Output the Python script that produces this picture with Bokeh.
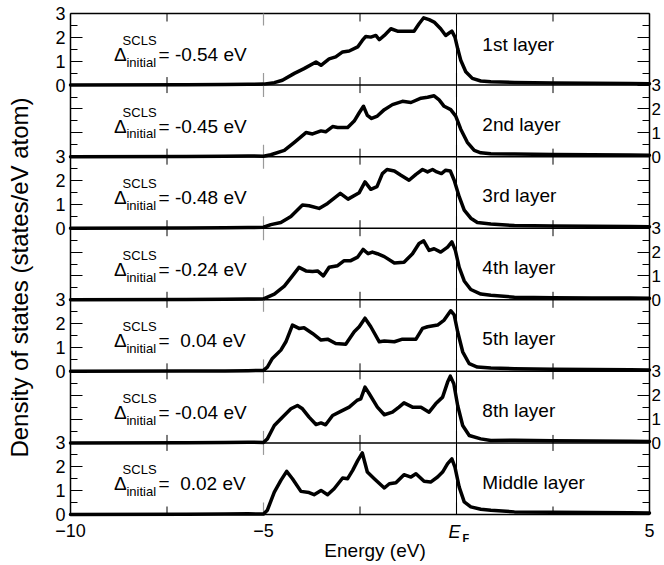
import math
from bokeh.plotting import figure
from bokeh.models import FixedTicker, LinearAxis, Range1d
from bokeh.embed import file_html
from bokeh.resources import INLINE
from bokeh.core.properties import value

FONT = "Liberation Sans"

# ---------------- data ----------------
layer_names = ["1st layer", "2nd layer", "3rd layer", "4th layer",
               "5th layer", "8th layer", "Middle layer"]
scls_shifts = [-0.54, -0.45, -0.48, -0.24, 0.04, -0.04, 0.02]

x_ticks = [-10, -5, 0, 5]
x_minor_ticks = [-7.5, -2.5, 2.5]
y_tick_values = [0, 1, 2, 3]
y_minor_values = [0.5, 1.5, 2.5]

# shared low-DOS tails (below the band and above E_F)
tail_left_e = [-10.0, -7.0, -6.0, -5.4]
tail_left_d = [0.0, 0.01, 0.02, 0.03]
tail_right_e = [1.5, 2.5, 3.5, 4.5, 5.0]
tail_right_d = [0.11, 0.09, 0.08, 0.07, 0.06]

energy_1st = [-5.0, -4.72, -4.51, -4.2, -3.95, -3.64, -3.51, -3.3, -3.13, -2.95, -2.78, -2.56,
              -2.44, -2.35, -2.22, -2.09, -2.0, -1.87, -1.7, -1.53, -1.1, -0.97, -0.85, -0.71,
              -0.58, -0.41, -0.28, -0.19, -0.12, -0.04, 0.03, 0.11, 0.24, 0.41, 0.63, 0.89]
dos_1st = [0.04, 0.1, 0.2, 0.49, 0.69, 0.97, 0.83, 1.1, 1.18, 1.39, 1.43, 1.6,
           1.87, 2.04, 2.01, 2.08, 1.9, 2.08, 2.36, 2.26, 2.26, 2.57, 2.82, 2.74,
           2.64, 2.36, 2.08, 2.18, 2.26, 2.01, 1.53, 1.04, 0.56, 0.28, 0.17, 0.14]

energy_2nd = [-5.0, -4.81, -4.46, -4.2, -3.9, -3.73, -3.51, -3.39, -3.21, -3.08, -2.82, -2.65,
              -2.52, -2.41, -2.31, -2.2, -2.05, -1.87, -1.66, -1.4, -1.18, -0.92, -0.75, -0.58,
              -0.45, -0.32, -0.15, -0.02, 0.11, 0.28, 0.46, 0.63, 0.89]
dos_2nd = [0.02, 0.08, 0.26, 0.6, 1.01, 0.95, 1.08, 1.04, 1.26, 1.22, 1.22, 1.49,
           1.84, 2.11, 1.73, 1.6, 1.7, 1.97, 2.18, 2.32, 2.27, 2.45, 2.49, 2.55,
           2.38, 2.11, 1.97, 1.7, 1.15, 0.6, 0.26, 0.16, 0.12]

energy_3rd = [-5.0, -4.81, -4.55, -4.29, -3.99, -3.82, -3.56, -3.34, -3.01, -2.81, -2.52, -2.37,
              -2.22, -2.06, -1.92, -1.8, -1.61, -1.44, -1.23, -1.05, -0.88, -0.75, -0.62, -0.51,
              -0.39, -0.28, -0.16, -0.06, 0.07, 0.2, 0.37, 0.54, 0.89]
dos_3rd = [0.04, 0.15, 0.24, 0.49, 0.97, 0.94, 0.83, 1.04, 1.46, 1.22, 1.49, 1.94,
           1.63, 1.74, 2.29, 2.46, 2.4, 2.22, 2.01, 2.26, 2.46, 2.36, 2.46, 2.36,
           2.29, 2.43, 2.4, 2.01, 1.32, 0.76, 0.42, 0.24, 0.18]

energy_4th = [-5.0, -4.72, -4.46, -4.25, -4.08, -3.9, -3.73, -3.6, -3.45, -3.3, -3.08, -2.91,
              -2.74, -2.56, -2.42, -2.29, -2.18, -2.05, -1.87, -1.61, -1.36, -1.14, -0.97, -0.85,
              -0.71, -0.58, -0.41, -0.23, -0.12, -0.03, 0.07, 0.2, 0.37, 0.63, 0.89]
dos_4th = [0.04, 0.24, 0.57, 1.0, 1.36, 1.21, 1.19, 1.21, 1.0, 1.36, 1.43, 1.64,
           1.64, 1.79, 2.11, 1.93, 2.0, 1.93, 1.81, 1.54, 1.57, 1.93, 2.36, 2.47,
           2.07, 2.14, 2.0, 2.21, 2.43, 2.07, 1.36, 0.79, 0.43, 0.24, 0.19]

energy_5th = [-5.0, -4.9, -4.77, -4.55, -4.42, -4.25, -4.08, -3.95, -3.73, -3.51, -3.34, -3.13,
              -2.87, -2.65, -2.52, -2.37, -2.22, -2.0, -1.87, -1.61, -1.4, -1.05, -0.88, -0.75,
              -0.49, -0.32, -0.15, -0.06, 0.03, 0.16, 0.33, 0.54, 0.89]
dos_5th = [0.04, 0.18, 0.54, 0.89, 1.24, 1.94, 1.8, 1.83, 1.59, 1.31, 1.35, 1.17,
           1.14, 1.66, 1.87, 2.23, 1.87, 1.24, 1.27, 1.24, 1.35, 1.35, 1.8, 1.87,
           1.94, 2.15, 2.54, 2.37, 1.66, 0.82, 0.32, 0.18, 0.14]

energy_8th = [-5.0, -4.9, -4.72, -4.51, -4.29, -4.12, -3.99, -3.82, -3.64, -3.51, -3.39, -3.21,
              -3.0, -2.78, -2.58, -2.48, -2.37, -2.26, -2.05, -1.87, -1.66, -1.49, -1.36, -1.14,
              -0.92, -0.71, -0.54, -0.36, -0.23, -0.16, -0.07, 0.03, 0.16, 0.33, 0.63, 0.89]
dos_8th = [0.02, 0.17, 0.73, 1.08, 1.43, 1.57, 1.43, 1.08, 0.77, 0.84, 0.76, 1.15,
           1.32, 1.5, 1.78, 1.85, 2.34, 2.06, 1.5, 1.18, 1.29, 1.5, 1.68, 1.5,
           1.5, 1.29, 1.64, 1.92, 2.55, 2.8, 2.48, 1.57, 0.73, 0.31, 0.17, 0.1]

energy_mid = [-5.0, -4.9, -4.72, -4.55, -4.4, -4.25, -4.03, -3.82, -3.69, -3.51, -3.34, -3.17,
              -2.95, -2.82, -2.69, -2.56, -2.44, -2.31, -2.13, -1.87, -1.74, -1.57, -1.36, -1.18,
              -1.05, -0.84, -0.67, -0.49, -0.36, -0.23, -0.12, -0.04, 0.07, 0.2, 0.37, 0.63, 0.89]
dos_mid = [0.02, 0.18, 0.94, 1.43, 1.81, 1.5, 0.97, 0.92, 0.83, 1.01, 0.83, 1.08,
           1.53, 1.5, 1.85, 2.26, 2.58, 1.78, 1.5, 1.11, 1.29, 1.33, 1.67, 1.57,
           1.71, 1.39, 1.36, 1.57, 1.78, 2.13, 2.33, 1.99, 1.15, 0.53, 0.32, 0.22, 0.18]

energies = [energy_1st, energy_2nd, energy_3rd, energy_4th, energy_5th, energy_8th, energy_mid]
doses = [dos_1st, dos_2nd, dos_3rd, dos_4th, dos_5th, dos_8th, dos_mid]

# ---------------- layout ----------------
W, H = 663, 564                 # canvas
PAD_L, PAD_R, PAD_T, PAD_B = 70, 14, 13, 50   # room around the plot box (px)
n = len(layer_names)
panel_h = 3
y_top = panel_h * n
x_lo, x_hi = x_ticks[0], x_ticks[-1]
ppx = (W - PAD_L - PAD_R) / (x_hi - x_lo)
ppy = (H - PAD_T - PAD_B) / y_top

def dx(px):   # horizontal pixel distance -> data units
    return px / ppx

def dy(px):
    return px / ppy

offsets = [panel_h * (n - 1 - i) for i in range(n)]   # top panel first
boundaries = [panel_h * k for k in range(n + 1)]

p = figure(width=W, height=H, output_backend="svg", toolbar_location=None,
           x_axis_location=None, y_axis_location=None, min_border=0,
           x_range=Range1d(x_lo - dx(PAD_L), x_hi + dx(PAD_R)),
           y_range=Range1d(-dy(PAD_B), y_top + dy(PAD_T)))
p.grid.visible = False
p.outline_line_color = None
p.background_fill_color = "white"
p.border_fill_color = "white"

# ---- y axes (pinned to the box edges) ----
major_y = sorted(set(o + v for o in offsets for v in y_tick_values))
minor_y = sorted(o + v for o in offsets for v in y_minor_values)
left_labels = {t: "" for t in major_y}
right_labels = {t: "" for t in major_y}
for i, o in enumerate(offsets):
    for v in y_tick_values:
        if i % 2 == 0:
            left_labels[o + v] = str(v)
        else:
            right_labels[o + v] = str(v)

def y_axis(loc, labels, size, standoff):
    ax = LinearAxis(fixed_location=loc, bounds=(0, y_top),
                    ticker=FixedTicker(ticks=major_y, minor_ticks=minor_y),
                    major_label_overrides=labels)
    ax.major_tick_in = 12
    ax.major_tick_out = 0
    ax.minor_tick_in = 7
    ax.minor_tick_out = 0
    ax.major_tick_line_color = "black"
    ax.minor_tick_line_color = "black"
    ax.axis_line_color = "black"
    ax.axis_line_width = 1.5
    ax.major_label_text_font = FONT
    ax.major_label_text_font_size = size
    ax.major_label_text_color = "black"
    ax.major_label_standoff = standoff
    return ax

p.add_layout(y_axis(x_lo, left_labels, "18px", 5), "left")
p.add_layout(y_axis(x_hi, right_labels, "17px", 2), "right")

# ---- x axis (pinned to y = 0) ----
bx = LinearAxis(fixed_location=0, bounds=(x_lo, x_hi), ticker=FixedTicker(ticks=x_ticks),
                major_label_overrides={0: ""})
bx.major_tick_in = 0
bx.major_tick_out = 0
bx.minor_tick_in = 0
bx.minor_tick_out = 0
bx.axis_line_color = "black"
bx.axis_line_width = 1.5
bx.major_label_text_font = FONT
bx.major_label_text_font_size = "18px"
bx.major_label_text_color = "black"
bx.major_label_standoff = 9
p.add_layout(bx, "below")

# ---- panel separators, top edge and Fermi level ----
sep = boundaries[1:]
p.segment(x0=[x_lo] * len(sep), y0=sep, x1=[x_hi] * len(sep), y1=sep,
          line_color="black", line_width=1.5)
p.segment(x0=[0], y0=[0], x1=[0], y1=[y_top], line_color="black", line_width=1)

# x ticks at every panel boundary (pointing into the neighbouring panels)
def tick_segments(xs, half):
    X, Y0, Y1 = [], [], []
    for b in boundaries:
        for t in xs:
            X.append(t); Y0.append(max(b - half, 0)); Y1.append(min(b + half, y_top))
    return X, Y0, Y1

X, Y0, Y1 = tick_segments(x_minor_ticks, dy(8))
p.segment(x0=X, y0=Y0, x1=X, y1=Y1, line_color="black", line_width=1)
X, Y0, Y1 = tick_segments(x_ticks[1:-1], dy(12))
p.segment(x0=X, y0=Y0, x1=X, y1=Y1, line_color="#9a9a9a", line_width=1.2)
p.segment(x0=[0], y0=[0], x1=[0], y1=[y_top], line_color="black", line_width=1)

# ---- curves ----
for e, d, o in zip(energies, doses, offsets):
    xs = tail_left_e + e + tail_right_e
    ys = [o + v for v in tail_left_d + d + tail_right_d]
    p.line(xs, ys, line_color="black", line_width=3.5, line_join="round", line_cap="round")

# ---- texts ----
def txt(x, y, t, size, **kw):
    p.text(x=x, y=y, text=t, text_font=value(FONT), text_font_size=size,
           text_color="black", text_baseline=kw.pop("baseline", "middle"),
           text_align=kw.pop("align", "left"), **kw)

label_lift = [1.72] + [1.36] * (n - 1)
txt([0.67] * n, [o + h for o, h in zip(offsets, label_lift)], layer_names, "19px")

def fmt(v):
    return "= " + ("-" if v < 0 else "\u00a0") + f"{abs(v):.2f} eV"

txt([-8.87] * n, [o + 1.28 for o in offsets], ["\u0394"] * n, "19px")
txt([-8.65] * n, [o + 1.87 for o in offsets], ["SCLS"] * n, "13px")
txt([-8.55] * n, [o + 0.95 for o in offsets], ["initial"] * n, "13px")
txt([-7.72] * n, [o + 1.28 for o in offsets], [fmt(v) for v in scls_shifts], "19px")

# E_F under the Fermi level
txt([0 - dx(8)], [-dy(17)], ["E"], "18px", text_font_style="italic")
txt([0 + dx(6)], [-dy(23.5)], ["F"], "11px", text_font_style="bold")

# axis titles
txt([-2.11], [-dy(36)], ["Energy (eV)"], "19px", align="center")
txt([x_lo - dx(51)], [dy(514 - 277)], ["Density of states (states/eV atom)"], "24px",
    align="center", angle=math.pi / 2)

open("out.html", "w").write(file_html(p, INLINE))
